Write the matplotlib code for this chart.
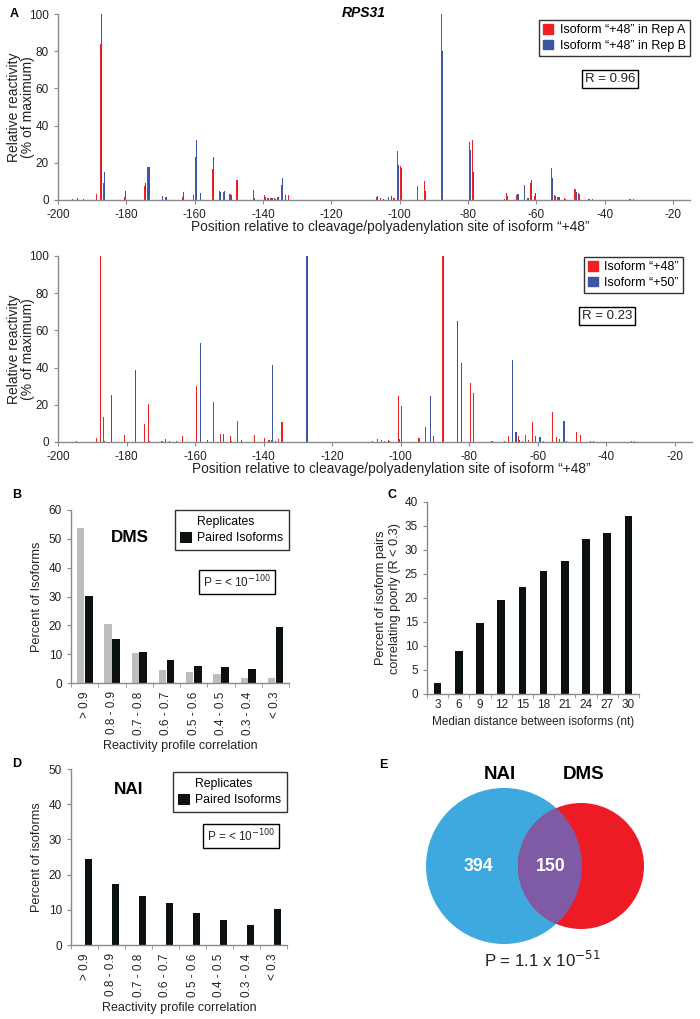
import matplotlib
matplotlib.use('Agg')
import matplotlib.pyplot as plt
from matplotlib.patches import Patch, Circle
import numpy as np

plt.rcParams['font.family'] = ['Liberation Sans', 'DejaVu Sans']
plt.rcParams['axes.unicode_minus'] = False

W, H = 700, 1019

# ---- Panel A (top): isoform +48, rep A (red) vs rep B (blue)
a1_pos = [-196, -195, -193, -189, -188, -187, -181, -175, -174, -170, -169, -164, -161, -160,
          -159, -155, -153, -152, -150, -148, -143, -140, -139, -138, -137, -136, -135, -134,
          -133, -107, -106, -105, -104, -103, -102, -101, -100, -95, -93, -88, -80, -79, -70,
          -69, -66, -64, -63, -62, -61, -56, -55, -54, -52, -49, -48, -45, -44, -33, -32]
a1_repA = [0.5, 0, 0.5, 3, 84, 9, 1.5, 7.5, 18, 0, 1.5, 1.5, 0, 23,
           0, 16.5, 5, 4.5, 3, 10.5, 5.5, 2.5, 1, 1, 1, 1.5, 8, 0,
           2.5, 1.5, 1, 0.5, 0, 0, 1, 26.5, 18.5, 7.5, 10, 100, 31, 32.5, 0,
           4, 2.5, 0, 1, 9, 2, 17, 2.5, 1.5, 1, 6, 4, 0.7, 0.7, 0.5, 0.5]
a1_repB = [0, 1, 0, 0, 100, 15, 5, 9, 18, 2, 1.5, 4.5, 2.5, 32,
           4, 23, 4.5, 4.8, 2.5, 10.5, 1, 1.5, 1, 1, 0.5, 1.5, 12, 2.5,
           0, 2, 0, 0, 1.5, 2, 0, 19, 17, 0, 5, 80, 27, 15, 0.5,
           2, 3, 8, 1, 11, 3.5, 12, 2, 1.5, 0.5, 4.5, 3, 0.3, 0, 0.3, 0]

# ---- Panel A (bottom): isoform +48 (red) vs isoform +50 (blue)
a2_pos = [-195, -189, -188, -187, -185, -181, -178, -175, -174, -170, -169, -168, -166, -164,
          -160, -159, -157, -155, -153, -152, -150, -148, -147, -143, -140, -139, -138, -137,
          -136, -135, -128, -109, -107, -106, -105, -104, -101, -100, -95, -93, -92, -91, -88,
          -84, -83, -80, -79, -74, -70, -69, -68, -67, -66, -65, -64, -63, -62, -61, -60, -59,
          -56, -55, -54, -53, -52, -49, -48, -45, -44, -33, -32]
a2_p48 = [0.5, 2, 100, 13.5, 0, 3.5, 0, 9.5, 20.5, 0.5, 1.5, 0, 0, 3,
          30, 0, 0, 21.5, 4.5, 4.5, 3, 11.5, 0, 3.5, 2, 1, 1, 0.5,
          1.5, 11, 0, 0, 1.5, 1, 0.5, 1, 25, 19.5, 2, 8, 0, 0, 100,
          0, 0, 31.5, 26.5, 0, 0.5, 3, 0, 0, 3, 0, 4, 1, 11, 3, 0, 0,
          16, 2.5, 1.5, 0, 0.5, 5.5, 3.5, 0.5, 0.5, 0.5, 0.5]
a2_p50 = [0, 0, 0, 0.5, 25.5, 0, 38.5, 0, 0.5, 0, 0, 0.5, 0.5, 0,
          0, 53, 1, 0, 0, 0, 0.5, 0, 1, 0, 0, 1, 41.5, 0,
          0, 0, 100, 0.5, 0, 0, 0, 0.5, 1.5, 0, 0, 0, 25, 3, 0,
          65, 42.5, 0, 0, 0.5, 0, 0, 44, 5.5, 1, 0.5, 0, 0, 0, 0, 2.5, 0.5,
          0, 0, 0, 11.5, 0, 0, 0, 0, 0, 0, 0]

# ---- Panels B / D
corr_bins = ['> 0.9', '0.8 - 0.9', '0.7 - 0.8', '0.6 - 0.7', '0.5 - 0.6', '0.4 - 0.5', '0.3 - 0.4', '< 0.3']
dms_replicates = [53.9, 20.3, 10.4, 4.4, 3.8, 3.0, 1.7, 1.9]
dms_paired = [30.1, 15.1, 10.9, 7.9, 5.9, 5.6, 4.8, 19.5]
nai_paired = [24.5, 17.3, 13.9, 11.8, 9.2, 7.1, 5.6, 10.1]

# ---- Panel C
median_dist = [3, 6, 9, 12, 15, 18, 21, 24, 27, 30]
pct_poor = [2.2, 9.0, 14.8, 19.6, 22.2, 25.6, 27.8, 32.3, 33.5, 37.0]

# ---- Panel E
nai_only = 394
overlap = 150

RED = '#EC2227'
BLUE = '#3B55A5'
AXC = '#8a8a8a'
TXT = '#222222'


def px_axes(fig, left, top, right, bottom):
    return fig.add_axes([left / W, 1 - bottom / H, (right - left) / W, (bottom - top) / H])


def fxy(x, y):
    return x / W, 1 - y / H


def style_axes(ax):
    for s in ['top', 'right']:
        ax.spines[s].set_visible(False)
    for s in ['left', 'bottom']:
        ax.spines[s].set_color(AXC)
        ax.spines[s].set_linewidth(1.0)
    ax.tick_params(colors=AXC, labelcolor=TXT, length=3, width=0.8, labelsize=8.5)


fig = plt.figure(figsize=(W / 100, H / 100), dpi=100)


def reactivity_panel(ax, pos, red, blue, labels, r_text, leg_xy, r_xy):
    pos = np.array(pos) + 0.5
    ax.bar(pos - 0.15, red, width=0.32, color=RED, linewidth=0)
    ax.bar(pos + 0.15, blue, width=0.32, color=BLUE, linewidth=0)
    ax.set_xlim(-200, -15)
    ax.set_ylim(0, 100)
    ax.set_xticks(range(-200, -19, 20))
    ax.set_yticks(range(0, 101, 20))
    style_axes(ax)
    ax.set_ylabel('Relative reactivity\n(% of maximum)', fontsize=10, color=TXT,
                  linespacing=1.0)
    ax.yaxis.set_label_coords(-0.036, 0.5)
    ax.set_xlabel('Position relative to cleavage/polyadenylation site of isoform \u201c+48\u201d',
                  fontsize=9.9, color=TXT)
    ax.xaxis.set_label_coords(0.525, -0.11)
    handles = [Patch(color=RED, label=labels[0]), Patch(color=BLUE, label=labels[1])]
    leg = fig.legend(handles=handles, loc='upper right', bbox_to_anchor=fxy(*leg_xy),
                     fontsize=9, frameon=True, fancybox=False, edgecolor='black',
                     handlelength=0.8, handleheight=0.8, handletextpad=0.5,
                     borderpad=0.35, labelspacing=0.25, borderaxespad=0)
    leg.get_frame().set_linewidth(1.0)
    fig.text(*fxy(*r_xy), r_text, ha='center', va='center', fontsize=9.5, color=TXT,
             bbox=dict(boxstyle='square,pad=0.2', facecolor='white', edgecolor='black', linewidth=1))


ax1 = px_axes(fig, 58, 14, 690, 200)
reactivity_panel(ax1, a1_pos, a1_repA, a1_repB,
                 ['Isoform \u201c+48\u201d in Rep A', 'Isoform \u201c+48\u201d in Rep B'],
                 'R = 0.96', (690, 20), (610, 79))
fig.text(*fxy(364, 13), 'RPS31', ha='center', va='center', fontsize=10,
         fontweight='bold', fontstyle='italic')

ax2 = px_axes(fig, 58, 256, 692, 442)
reactivity_panel(ax2, a2_pos, a2_p48, a2_p50,
                 ['Isoform \u201c+48\u201d', 'Isoform \u201c+50\u201d'],
                 'R = 0.23', (683, 257), (607, 316))


def corr_panel(ax, reps, paired, ymax, ylab, tag, tag_xy, tag_size, leg_xy, p_xy):
    x = np.arange(len(corr_bins)) + 0.5
    if reps is not None:
        ax.bar(x - 0.14, reps, width=0.27, color='#bdbdbd', linewidth=0)
    ax.bar(x + 0.15, paired, width=0.28, color='#0b1010', linewidth=0)
    ax.set_xlim(0, len(corr_bins))
    ax.set_ylim(0, ymax)
    ax.set_yticks(range(0, ymax + 1, 10))
    ax.set_xticks(x)
    ax.set_xticklabels(corr_bins, rotation=90, fontsize=7.8)
    ax.set_xticks(np.arange(len(corr_bins) + 1), minor=True)
    style_axes(ax)
    ax.tick_params(axis='x', which='major', length=0, pad=6)
    ax.tick_params(axis='x', which='minor', length=3, color=AXC)
    ax.set_ylabel(ylab, fontsize=9.2, color=TXT, labelpad=4)
    ax.set_xlabel('Reactivity profile correlation', fontsize=9, color=TXT)
    fig.text(*fxy(*tag_xy), tag, ha='center', va='center', fontsize=tag_size, fontweight='bold')
    handles = [Patch(facecolor='none', edgecolor='none', label='Replicates'),
               Patch(facecolor='#0b1010', label='Paired Isoforms')]
    leg = fig.legend(handles=handles, loc='upper right', bbox_to_anchor=fxy(*leg_xy),
                     fontsize=8.8, frameon=True, fancybox=False, edgecolor='black',
                     handlelength=1.0, handleheight=1.0, handletextpad=0.4,
                     borderpad=0.45, labelspacing=0.3, borderaxespad=0)
    leg.get_frame().set_linewidth(1.0)
    fig.text(*fxy(*p_xy), 'P = < 10$^{-100}$', ha='center', va='center', fontsize=8.5, color=TXT,
             bbox=dict(boxstyle='square,pad=0.35', facecolor='white', edgecolor='black', linewidth=1))


axB = px_axes(fig, 71, 510, 289, 683)
corr_panel(axB, dms_replicates, dms_paired, 60, 'Percent of Isoforms', 'DMS', (130, 537), 12.3,
           (289, 510), (237, 582))

axD = px_axes(fig, 71, 769, 287, 945)
corr_panel(axD, None, nai_paired, 50, 'Percent of isoforms', 'NAI', (129, 790), 12.3,
           (287, 772), (241, 836))

# ---- Panel C
axC = px_axes(fig, 427, 502, 639, 694)
xc = np.arange(len(median_dist)) + 0.5
axC.bar(xc, pct_poor, width=0.36, color='#0b1010', linewidth=0)
axC.set_xlim(0, len(median_dist))
axC.set_ylim(0, 40)
axC.set_yticks(range(0, 41, 5))
axC.set_xticks(xc)
axC.set_xticklabels([str(d) for d in median_dist])
axC.set_xticks(np.arange(len(median_dist) + 1), minor=True)
style_axes(axC)
axC.tick_params(axis='x', which='major', length=0)
axC.tick_params(axis='x', which='minor', length=3, color=AXC)
axC.set_ylabel('Percent of isoform pairs\ncorrelating poorly (R < 0.3)', fontsize=9.2, color=TXT,
               labelpad=3)
axC.set_xlabel('Median distance between isoforms (nt)', fontsize=8.5, color=TXT)

# ---- Panel E: Venn
axE = px_axes(fig, 380, 760, 700, 1000)
axE.set_xlim(380, 700)
axE.set_ylim(1000, 760)
axE.axis('off')
nai_c = Circle((504, 866), 78, color='#3DA9DF', linewidth=0)
dms_c = Circle((581, 866), 63, color='#ED1C24', linewidth=0)
axE.add_patch(nai_c)
axE.add_patch(dms_c)
mid = Circle((581, 866), 63, color='#7F5AA5', linewidth=0)
axE.add_patch(mid)
mid.set_clip_path(nai_c)
axE.text(478, 867, str(nai_only), ha='center', va='center', color='white', fontsize=12.8,
         fontweight='bold')
axE.text(551, 867, str(overlap), ha='center', va='center', color='white', fontsize=12.8,
         fontweight='bold')
axE.text(500, 775, 'NAI', ha='center', va='center', fontsize=13.5, fontweight='bold')
axE.text(584, 775, 'DMS', ha='center', va='center', fontsize=13.5, fontweight='bold')
axE.text(542, 960, 'P = 1.1 x 10$^{-51}$', ha='center', va='center', fontsize=12.2, color=TXT)

# panel letters
for letter, (lx, ly) in {'A': (14, 14), 'B': (17, 495), 'C': (392, 495),
                         'D': (17, 764), 'E': (383, 765)}.items():
    fig.text(*fxy(lx, ly), letter, ha='center', va='center', fontsize=9, fontweight='bold')

fig.savefig('out.png', dpi=100)
